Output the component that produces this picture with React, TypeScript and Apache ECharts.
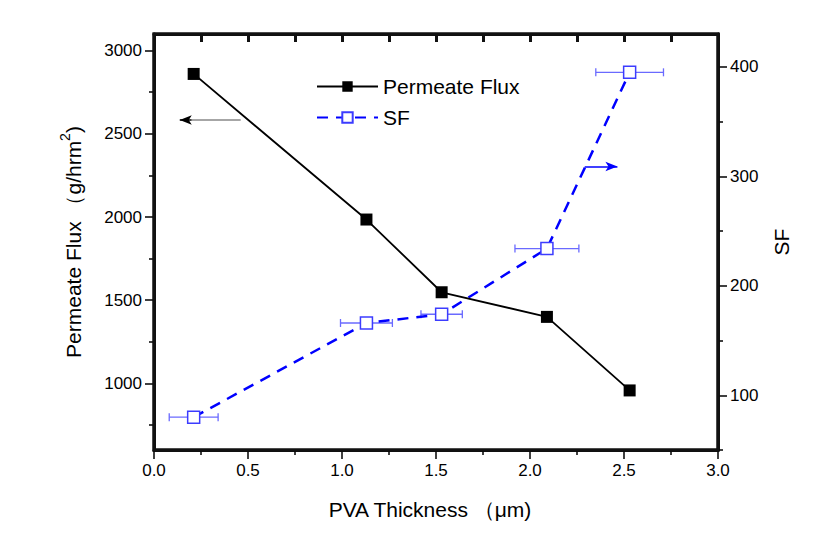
import React, { useEffect, useRef } from 'react';
import * as echarts from 'echarts';

const thickness = [0.211, 1.13, 1.53, 2.09, 2.53];
const flux = [2860, 1985, 1548, 1400, 958];
const sf = [80, 166, 174, 234, 395];
const sfErr = [0.13, 0.138, 0.11, 0.17, 0.18];
const xMajorInterval = 0.5;
const fluxTicks = [1000, 1500, 2000, 2500, 3000];
const fluxMinorTicks = [750, 1250, 1750, 2250, 2750];
const sfTicks = [100, 200, 300, 400];
const sfMinorTicks = [50, 150, 250, 350];
const legendNames = ['Permeate Flux', 'SF'];

const FONT = "'Liberation Sans', Arial, Helvetica, sans-serif";
const GRID = { left: 154, top: 34, width: 564, height: 416 };

export default function App() {
  const ref = useRef<HTMLDivElement>(null);
  useEffect(() => {
    if (!ref.current) return;
    const chart = echarts.init(ref.current, undefined, { renderer: 'svg' });
    const mkLine = () => ({ show: true, onZero: false, lineStyle: { color: '#111', width: 3 } });
    const tickStyle = { color: '#000', width: 1.5 };
    const labelStyle = { color: '#000', fontSize: 17, fontFamily: FONT, margin: 12 };
    const plain = (v: number) => String(v);
    const option: any = {
      animation: false,
      backgroundColor: '#fff',
      grid: {
        left: GRID.left, top: GRID.top, width: GRID.width, height: GRID.height,
        show: true, borderColor: '#111', borderWidth: 3, backgroundColor: 'transparent',
        containLabel: false, outerBoundsMode: 'none',
      },
      graphic: [
        {
          type: 'rect',
          z: 100,
          silent: true,
          shape: { x: GRID.left, y: GRID.top, width: GRID.width, height: GRID.height },
          style: { fill: 'none', stroke: '#111', lineWidth: 3 },
        },
      ],
      legend: {
        data: legendNames,
        orient: 'vertical',
        left: 311,
        top: 71,
        itemWidth: 61,
        itemHeight: 13,
        itemGap: 10,
        textStyle: { fontSize: 21, fontFamily: FONT, color: '#000', lineHeight: 21 },
      },
      xAxis: [
        {
          type: 'value', position: 'bottom', min: 0, max: 3, interval: xMajorInterval, z: 10,
          axisLine: mkLine(),
          axisTick: { show: true, inside: false, length: 9, lineStyle: tickStyle },
          minorTick: { show: true, splitNumber: 2, length: 5, lineStyle: tickStyle },
          axisLabel: { ...labelStyle, formatter: (v: number) => v.toFixed(1) },
          splitLine: { show: false },
          name: 'PVA Thickness （μm)',
          nameLocation: 'middle',
          nameGap: 49,
          nameTextStyle: { fontSize: 21, fontFamily: FONT, color: '#000', padding: [0, 12, 0, 0] },
        },
        {
          type: 'value', position: 'top', min: 0, max: 3, interval: xMajorInterval / 2, z: 10,
          axisLine: mkLine(),
          axisTick: { show: true, inside: true, length: 8, lineStyle: { color: '#111', width: 3 } },
          axisLabel: { show: false },
          splitLine: { show: false },
        },
      ],
      yAxis: [
        {
          type: 'value', position: 'left', min: 600, max: 3100, z: 10,
          axisLine: mkLine(),
          axisTick: { show: true, inside: false, length: 9, lineStyle: tickStyle, customValues: fluxTicks },
          axisLabel: { ...labelStyle, customValues: fluxTicks, formatter: plain },
          splitLine: { show: false },
          name: 'Permeate Flux （g/hrm{sup|2})',
          nameLocation: 'middle',
          nameRotate: 90,
          nameGap: 66,
          nameTextStyle: {
            fontSize: 21, fontFamily: FONT, color: '#000', lineHeight: 30,
            rich: { sup: { fontSize: 14, fontFamily: FONT, color: '#000', verticalAlign: 'top', lineHeight: 13 } },
          },
        },
        {
          type: 'value', position: 'right', min: 50, max: 430, z: 10,
          axisLine: mkLine(),
          axisTick: { show: true, inside: false, length: 9, lineStyle: tickStyle, customValues: sfTicks },
          axisLabel: { ...labelStyle, customValues: sfTicks, formatter: plain },
          splitLine: { show: false },
          name: 'SF',
          nameLocation: 'middle',
          nameRotate: 90,
          nameGap: 53,
          nameTextStyle: { fontSize: 21, fontFamily: FONT, color: '#000' },
        },
        {
          type: 'value', position: 'left', min: 600, max: 3100, z: 10,
          axisLine: { show: false, onZero: false },
          axisTick: { show: true, inside: false, length: 5, lineStyle: tickStyle, customValues: fluxMinorTicks },
          axisLabel: { show: false },
          splitLine: { show: false },
        },
        {
          type: 'value', position: 'right', min: 50, max: 430, z: 10,
          axisLine: { show: false, onZero: false },
          axisTick: { show: true, inside: false, length: 5, lineStyle: tickStyle, customValues: sfMinorTicks },
          axisLabel: { show: false },
          splitLine: { show: false },
        },
      ],
      series: [
        {
          name: 'SF error',
          type: 'custom',
          xAxisIndex: 0,
          yAxisIndex: 1,
          z: 1,
          encode: { x: 0, y: 1 },
          data: thickness.map((x, i) => [x, sf[i], sfErr[i]]),
          renderItem: (params: any, api: any) => {
            const x = api.value(0), y = api.value(1), e = api.value(2);
            const p1 = api.coord([x - e, y]);
            const p2 = api.coord([x + e, y]);
            const h = 4;
            const style = { stroke: '#6a6aff', lineWidth: 1.3, fill: null };
            return {
              type: 'group',
              children: [
                { type: 'line', shape: { x1: p1[0], y1: p1[1], x2: p2[0], y2: p2[1] }, style },
                { type: 'line', shape: { x1: p1[0], y1: p1[1] - h, x2: p1[0], y2: p1[1] + h }, style },
                { type: 'line', shape: { x1: p2[0], y1: p2[1] - h, x2: p2[0], y2: p2[1] + h }, style },
              ],
            };
          },
        },
        {
          name: 'Permeate Flux',
          type: 'line',
          xAxisIndex: 0,
          yAxisIndex: 0,
          z: 3,
          data: thickness.map((x, i) => [x, flux[i]]),
          symbol: 'rect',
          symbolSize: 12,
          itemStyle: { color: '#000' },
          lineStyle: { color: '#000', width: 1.8 },
          markLine: {
            silent: true,
            symbol: ['none', 'none'],
            label: { show: false },
            lineStyle: { color: '#888', width: 1.5, type: 'solid' },
            data: [
              [{ coord: [0.461, 2583] }, { coord: [0.2, 2583] }],
              [
                { coord: [0.2, 2583], symbol: 'none', lineStyle: { color: '#000', width: 1.5, type: 'solid' } },
                { coord: [0.137, 2583], symbol: 'arrow', symbolSize: [7, 12] },
              ],
            ],
          },
        },
        {
          name: 'SF',
          type: 'line',
          xAxisIndex: 0,
          yAxisIndex: 1,
          z: 2,
          data: thickness.map((x, i) => [x, sf[i]]),
          symbol: 'rect',
          symbolSize: 12,
          itemStyle: { color: '#fff', borderColor: '#3c3cff', borderWidth: 1.5 },
          lineStyle: { color: '#0000ff', width: 2.5, type: [11, 8] },
          markLine: {
            silent: true,
            symbol: ['none', 'arrow'],
            symbolSize: [7, 12],
            label: { show: false },
            lineStyle: { color: '#0000ff', width: 1.5, type: 'solid' },
            data: [[{ coord: [2.291, 309] }, { coord: [2.465, 309] }]],
          },
        },
      ],
    };
    chart.setOption(option);
    return () => chart.dispose();
  }, []);
  return (
    <div
      ref={ref}
      style={{ position: 'fixed', left: 0, top: 0, width: 817, height: 538, background: '#fff' }}
    />
  );
}
